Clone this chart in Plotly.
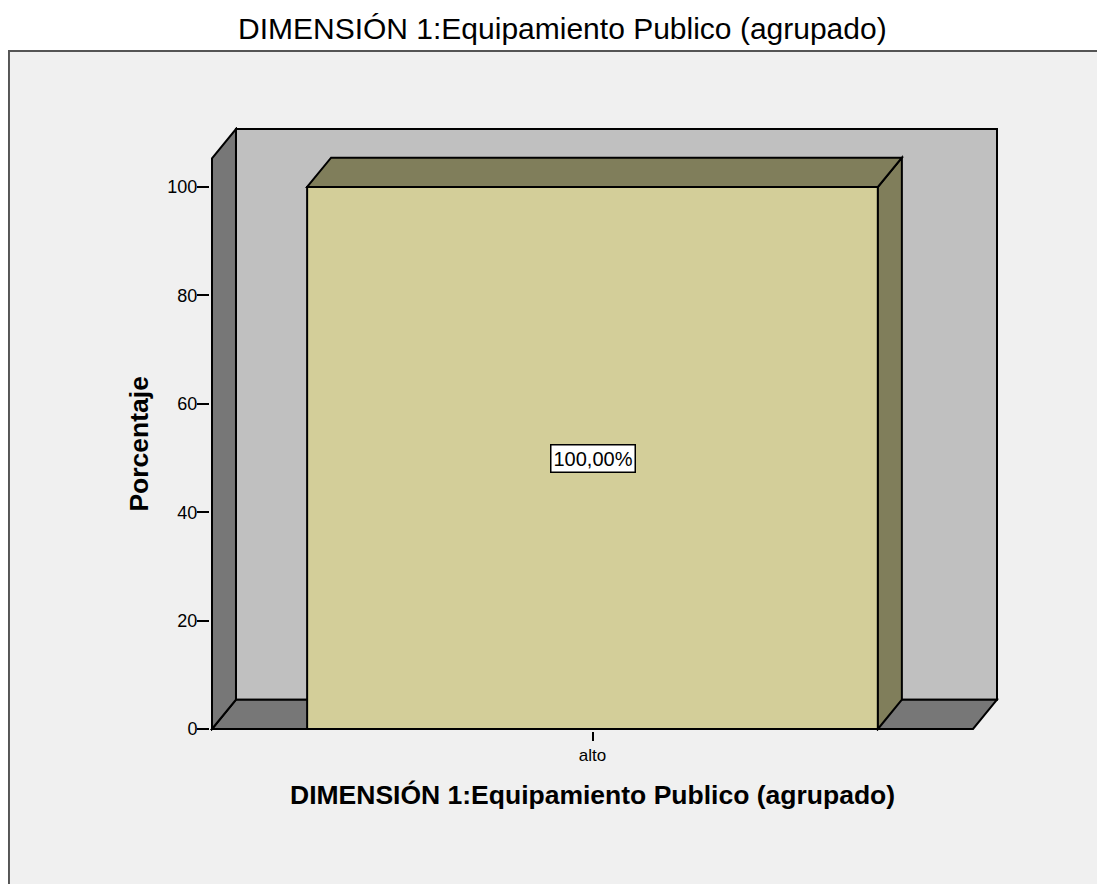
import plotly.graph_objects as go

# data
categories = ["alto"]
percentages = [100.0]
y_ticks = [0, 20, 40, 60, 80, 100]
chart_title = "DIMENSIÓN 1:Equipamiento Publico (agrupado)"
y_title = "Porcentaje"

# 3D look (SPSS style)
y_top = 105.3      # height of the front edge of the walls
depth_x = 0.0315   # depth offset in x units
depth_y = 5.4      # depth offset in y units
bar_width = 0.75
pad_x = 2 / 761
pad_y = 2 / 5.42

BACK = "#c0c0c0"
WALL = "#777777"
BAR = "#d3ce99"
BAR_DARK = "#807e5b"
EDGE = "black"
FONT = "Liberation Sans, Arial, sans-serif"

x_pos = list(range(len(categories)))
x_left = min(x_pos) - 0.5
x_right = max(x_pos) + 0.5

fig = go.Figure()

fig.add_trace(go.Bar(
    x=x_pos, y=percentages, width=bar_width,
    marker=dict(color=BAR, line=dict(color=EDGE, width=2)),
    hoverinfo="skip", showlegend=False,
))

shapes = []
# outer frame of the chart
shapes.append(dict(type="rect", xref="paper", yref="paper",
                   x0=-0.2548, x1=1.15, y0=-0.27, y1=1.1258,
                   fillcolor="#f0f0f0", line=dict(color="#555555", width=2),
                   layer="below"))
# back wall
shapes.append(dict(type="rect", xref="x", yref="y",
                   x0=x_left + depth_x, x1=x_right + depth_x,
                   y0=depth_y, y1=y_top + depth_y,
                   fillcolor=BACK, line=dict(color=EDGE, width=2), layer="below"))
# floor
shapes.append(dict(type="path", xref="x", yref="y",
                   path=f"M {x_left},0 L {x_right},0 L {x_right + depth_x},{depth_y} "
                        f"L {x_left + depth_x},{depth_y} Z",
                   fillcolor=WALL, line=dict(color=EDGE, width=2), layer="below"))
# left wall
shapes.append(dict(type="path", xref="x", yref="y",
                   path=f"M {x_left},0 L {x_left},{y_top} L {x_left + depth_x},{y_top + depth_y} "
                        f"L {x_left + depth_x},{depth_y} Z",
                   fillcolor=WALL, line=dict(color=EDGE, width=2), layer="below"))

annotations = []
for xp, v in zip(x_pos, percentages):
    l, r = xp - bar_width / 2, xp + bar_width / 2
    # side face
    shapes.append(dict(type="path", xref="x", yref="y",
                       path=f"M {r},0 L {r + depth_x},{depth_y} L {r + depth_x},{v + depth_y} "
                            f"L {r},{v} Z",
                       fillcolor=BAR_DARK, line=dict(color=EDGE, width=2), layer="above"))
    # top face
    shapes.append(dict(type="path", xref="x", yref="y",
                       path=f"M {l},{v} L {l + depth_x},{v + depth_y} L {r + depth_x},{v + depth_y} "
                            f"L {r},{v} Z",
                       fillcolor=BAR_DARK, line=dict(color=EDGE, width=2), layer="above"))
    annotations.append(dict(
        x=xp, y=v / 2, xref="x", yref="y",
        text=f"{v:.2f}%".replace(".", ","), showarrow=False,
        font=dict(family=FONT, size=20, color="black"),
        bgcolor="white", bordercolor="black", borderwidth=1.5, borderpad=2,
    ))

# titles
annotations.append(dict(x=0.4474, y=1.1639, xref="paper", yref="paper",
                        text=chart_title, showarrow=False,
                        xanchor="center", yanchor="middle",
                        font=dict(family=FONT, size=30, color="black")))
annotations.append(dict(x=(x_left + x_right) / 2, y=-0.106, xref="x", yref="paper",
                        text=f"<b>{chart_title}</b>", showarrow=False,
                        xanchor="center", yanchor="middle",
                        font=dict(family=FONT, size=26.5, color="black")))
annotations.append(dict(x=-0.09, y=y_top / 2, xref="paper", yref="y",
                        text=f"<b>{y_title}</b>", showarrow=False, textangle=-90,
                        xanchor="center", yanchor="middle",
                        font=dict(family=FONT, size=26.5, color="black")))

# the page body has an 8px margin, so the figure is a bit smaller than the window
fig.update_layout(
    width=1097, height=876,
    margin=dict(l=202, r=106, t=119, b=153),
    paper_bgcolor="white",
    plot_bgcolor="rgba(0,0,0,0)",
    shapes=shapes,
    annotations=annotations,
    showlegend=False,
    xaxis=dict(range=[x_left - pad_x, x_right + depth_x + pad_x],
               tickvals=x_pos, ticktext=categories,
               ticks="outside", ticklen=9, tickwidth=1.5, tickcolor="black",
               showgrid=False, zeroline=False, showline=False, fixedrange=True,
               tickfont=dict(family=FONT, size=17, color="black")),
    yaxis=dict(range=[-pad_y, y_top + depth_y + pad_y],
               tickvals=y_ticks, ticks="outside", ticklen=12, tickwidth=1.5, tickcolor="black",
               ticklabelstandoff=-4,
               showgrid=False, zeroline=False, showline=False, fixedrange=True,
               tickfont=dict(family=FONT, size=18, color="black")),
)

fig.write_html("out.html")
